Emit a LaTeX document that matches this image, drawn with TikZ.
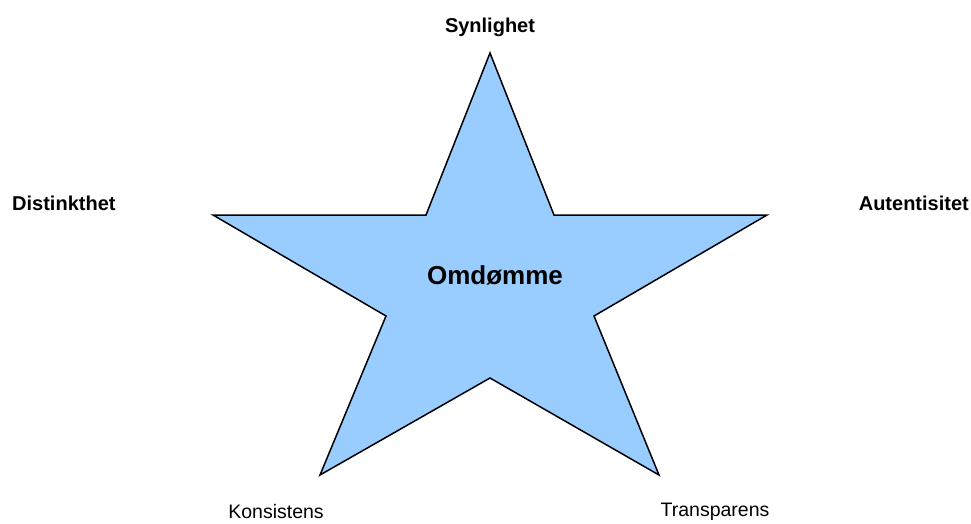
\documentclass[tikz,border=0pt]{standalone}
\usepackage{fontspec}
\setmainfont{Liberation Sans}
\definecolor{starblue}{HTML}{99CCFF}
\begin{document}
\begin{tikzpicture}[x=1pt, y=-1pt]
  \tikzset{lbl/.style={font=\fontsize{20}{24}\selectfont\bfseries, inner sep=0pt},
           plain/.style={font=\fontsize{19.5}{23}\selectfont, inner sep=0pt}}
  \useasboundingbox (0,0) rectangle (971,523);
  % star
  \draw[line width=1.5pt, line join=miter, fill=starblue]
    (490,53) -- (554,215) -- (767,215) -- (594,316) -- (659,475)
    -- (490,378) -- (320,475) -- (386,316) -- (213,215) -- (426,215) -- cycle;
  \node[font=\fontsize{26}{30}\selectfont\bfseries, inner sep=0pt] (centre) at (495,275) {Omdømme};
  % labels
  \node[lbl] (syn) at (490,27) {Synlighet};
  \node[lbl, anchor=west] (dist) at (12,203) {Distinkthet};
  \node[lbl, anchor=east] (aut) at (969,203) {Autentisitet};
  \node[plain] (kons) at (276,512) {Konsistens};
  \node[plain] (trans) at (715,512) {Transparens};
\end{tikzpicture}
\end{document}
